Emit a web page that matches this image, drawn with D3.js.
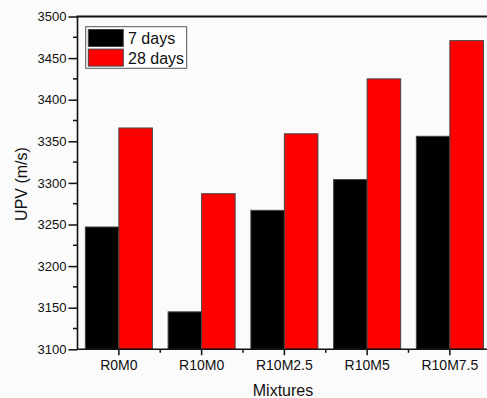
<!DOCTYPE html>
<html><head><meta charset="utf-8">
<script src="https://cdn.jsdelivr.net/npm/d3@7"></script>
<style>html,body{margin:0;padding:0;background:#fbfbfb;}svg{display:block;}</style>
</head><body>
<script>
const categories = ["R0M0","R10M0","R10M2.5","R10M5","R10M7.5"];
const seriesNames = ["7 days","28 days"];
const days7 = [3247,3145,3267,3304,3356];
const days28 = [3366,3287,3359,3425,3471];
const yTicks = [3100,3150,3200,3250,3300,3350,3400,3450,3500];
const colors = ["#000000","#ff0000"];

(function(){
const W=487,H=398;
const pl=77.5, pt=16.5, pb=349.3, pr=77.5+5*82.75;
const svg=d3.select("body").append("svg").attr("width",W).attr("height",H);
svg.append("rect").attr("width",W).attr("height",H).attr("fill","#fbfbfb");

const x=d3.scaleBand().domain(categories).range([pl,pr]).paddingInner(0.19).paddingOuter(0.095);
const xs=d3.scaleBand().domain(seriesNames).range([0,x.bandwidth()]);
const y=d3.scaleLinear().domain([3100,3500]).range([pb,pt]);

const data=categories.map((c,i)=>({c,vals:[days7[i],days28[i]]}));
const g=svg.append("g");
data.forEach(d=>{
  d.vals.forEach((v,j)=>{
    g.append("rect").attr("x",x(d.c)+xs(seriesNames[j])).attr("width",xs.bandwidth())
     .attr("y",y(v)).attr("height",y(3100)-y(v))
     .attr("fill",colors[j]).attr("stroke","#444").attr("stroke-width",1);
  });
});

const yAxis=d3.axisLeft(y).tickValues(yTicks).tickSize(9).tickFormat(d3.format("d"));
const ya=svg.append("g").attr("transform",`translate(${pl},0)`).call(yAxis);
ya.select(".domain").remove();
ya.selectAll("text").attr("font-family","Arial, Liberation Sans").attr("font-size",13).attr("fill","#111").attr("x",-11);
ya.selectAll("line").attr("stroke","#111").attr("stroke-width",1.5);
const yMinor=d3.range(3125,3500,50);
svg.append("g").selectAll("line").data(yMinor).join("line")
 .attr("x1",pl-4.5).attr("x2",pl).attr("y1",d=>y(d)).attr("y2",d=>y(d)).attr("stroke","#111").attr("stroke-width",1.5);

const xAxis=d3.axisBottom(x).tickSize(6).tickSizeOuter(0);
const xa=svg.append("g").attr("transform",`translate(0,${pb})`).call(xAxis);
xa.select(".domain").remove();
xa.selectAll("line").attr("stroke","#111").attr("stroke-width",1.5);
xa.selectAll("text").attr("font-family","Arial, Liberation Sans").attr("font-size",14).attr("fill","#111").attr("y",11);
const xMinor=categories.slice(0,-1).map((c,i)=>(x(c)+x.bandwidth()/2+x(categories[i+1])+x.bandwidth()/2)/2);
svg.append("g").selectAll("line").data(xMinor).join("line")
 .attr("x1",d=>d).attr("x2",d=>d).attr("y1",pb).attr("y2",pb+3.5).attr("stroke","#111").attr("stroke-width",1.5);

svg.append("line").attr("x1",pl).attr("x2",pl).attr("y1",pt).attr("y2",pb).attr("stroke","#111").attr("stroke-width",1.6);
svg.append("line").attr("x1",pl).attr("x2",W).attr("y1",pb).attr("y2",pb).attr("stroke","#111").attr("stroke-width",1.6);
svg.append("line").attr("x1",pl-1).attr("x2",W).attr("y1",pt).attr("y2",pt).attr("stroke","#111").attr("stroke-width",2);

svg.append("text").attr("transform","translate(27,184) rotate(-90)").attr("text-anchor","middle")
 .attr("font-family","Arial, Liberation Sans").attr("font-size",16).attr("fill","#111").text("UPV (m/s)");
svg.append("text").attr("x",283).attr("y",396).attr("text-anchor","middle")
 .attr("font-family","Arial, Liberation Sans").attr("font-size",16).attr("fill","#111").text("Mixtures");

const lg=svg.append("g");
lg.append("rect").attr("x",85.7).attr("y",26.7).attr("width",101).attr("height",41.6).attr("fill","#fff").attr("stroke","#555").attr("stroke-width",1);
seriesNames.forEach((s,i)=>{
  lg.append("rect").attr("x",88.3).attr("y",29.5+i*19.6).attr("width",35).attr("height",17).attr("fill",colors[i]).attr("stroke","#444").attr("stroke-width",1);
  lg.append("text").attr("x",128).attr("y",44+i*19.5).attr("font-family","Arial, Liberation Sans").attr("font-size",16).attr("fill","#111").text(s);
});
})();
</script>
</body></html>
